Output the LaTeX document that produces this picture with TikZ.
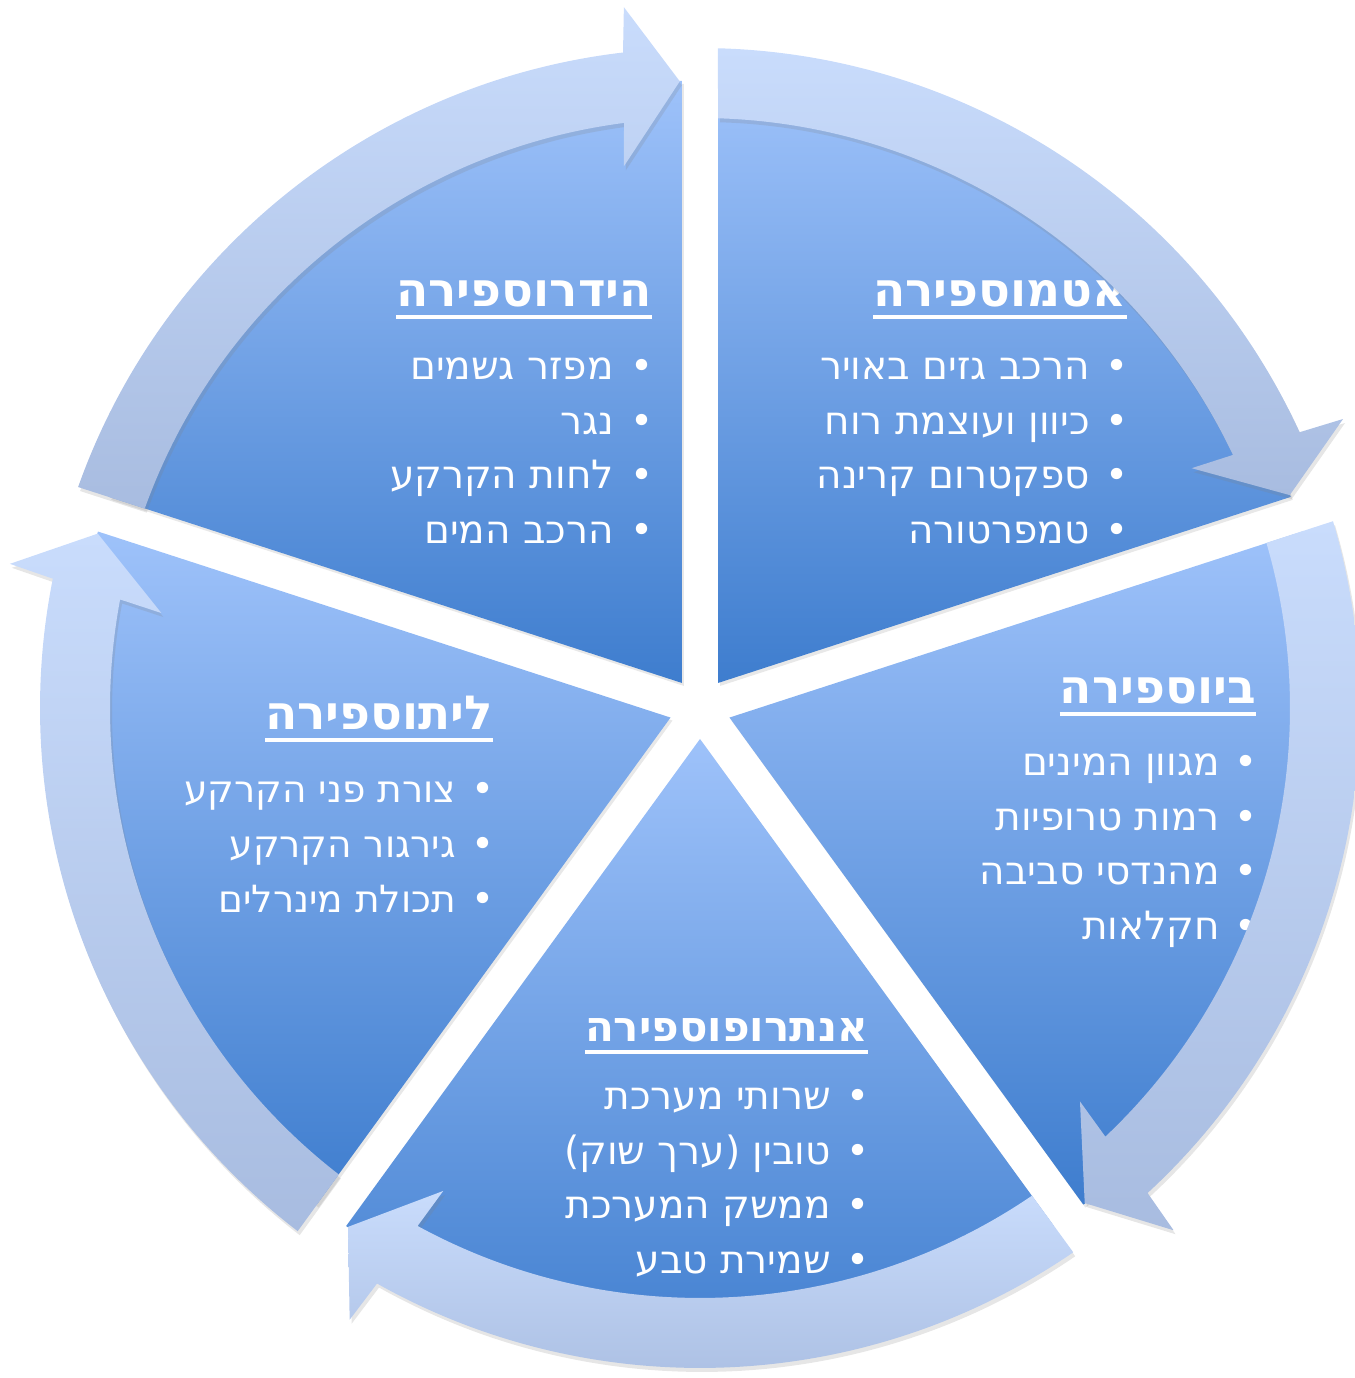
\documentclass[tikz,border=0pt]{standalone}
\usepackage{fontspec}
\usetikzlibrary{shadows,calc}
\TeXXeTstate=1
\newfontfamily\heb[Script=Hebrew]{DejaVu Sans}
\definecolor{wtop}{RGB}{158,194,250}
\definecolor{wbot}{RGB}{62,125,206}
\definecolor{atop}{RGB}{201,220,252}
\definecolor{abot}{RGB}{168,188,224}
\tikzset{
 wedgesty/.style={top color=wtop, bottom color=wbot, draw=none, drop shadow={opacity=0.18, shadow xshift=2pt, shadow yshift=-3pt}},
 arrowsty/.style={top color=atop, bottom color=abot, draw=none, drop shadow={opacity=0.2, shadow xshift=2pt, shadow yshift=-4pt}},
 ttl/.style={anchor=base east, inner sep=0pt, text=white, font=\heb\bfseries\fontsize{47}{56}\selectfont},
 ttlsmall/.style={ttl, font=\heb\bfseries\fontsize{42}{50}\selectfont},
 itm/.style={anchor=base east, inner sep=0pt, text=white, font=\heb\fontsize{39}{46}\selectfont},
 itmsmall/.style={itm, font=\heb\fontsize{37.5}{45}\selectfont},
 bul/.style={anchor=base, inner sep=0pt, text=white, font=\heb\fontsize{39}{46}\selectfont},
 uline/.style={white, line width=4pt},
}
\begin{document}
\begin{tikzpicture}[x=1pt,y=1pt]
\useasboundingbox (0,0) rectangle (1354,1378);
% wedges
\begin{scope}[shift={(700,670)}]
\foreach \k in {0,...,4}{
  \pgfmathsetmacro\a{-72*\k}
  \pgfmathsetmacro\bis{54+\a}
  \pgfmathsetmacro\ea{90+\a}
  \pgfmathsetmacro\eb{18+\a}
  \path[wedgesty] (\bis:31) -- ++(\ea:602) arc[start angle=\ea, end angle=\eb, radius=602] -- cycle;
}
\end{scope}
% hydrosphere
\node[ttl] (t1) at (652,1071) {\beginR הידרוספירה\endR};
\draw[uline] ([yshift=-10pt]t1.base west) -- ([yshift=-10pt]t1.base east);
\node[itm] (h1) at (614,998) {\beginR מפזר גשמים\endR};
\node[itm] (h2) at (614,943) {\beginR נגר\endR};
\node[itm] (h3) at (614,889) {\beginR לחות הקרקע\endR};
\node[itm] (h4) at (614,834) {\beginR הרכב המים\endR};
\foreach \y [count=\i] in {998,943,889,834} \node[bul] (hb\i) at (642,\y) {•};
% atmosphere
\node[ttl] (t2) at (1127,1071) {\beginR אטמוספירה\endR};
\draw[uline] ([yshift=-10pt]t2.base west) -- ([yshift=-10pt]t2.base east);
\node[itm] (a1) at (1090,998) {\beginR הרכב גזים באויר\endR};
\node[itm] (a2) at (1090,943) {\beginR כיוון ועוצמת רוח\endR};
\node[itm] (a3) at (1090,889) {\beginR ספקטרום קרינה\endR};
\node[itm] (a4) at (1090,834) {\beginR טמפרטורה\endR};
\foreach \y [count=\i] in {998,943,889,834} \node[bul] (ab\i) at (1117,\y) {•};
% biosphere
\node[ttl] (t3) at (1256,674) {\beginR ביוספירה\endR};
\draw[uline] ([yshift=-10pt]t3.base west) -- ([yshift=-10pt]t3.base east);
\node[itm] (b1) at (1220,602) {\beginR מגוון המינים\endR};
\node[itm] (b2) at (1220,547) {\beginR רמות טרופיות\endR};
\node[itm] (b3) at (1220,493) {\beginR מהנדסי סביבה\endR};
\node[itm] (b4) at (1220,438) {\beginR חקלאות\endR};
\foreach \y [count=\i] in {602,547,493,438} \node[bul] (bb\i) at (1246,\y) {•};
% anthroposphere
\node[ttlsmall] (t4) at (868,336) {\beginR אנתרופוספירה\endR};
\draw[uline] ([yshift=-10pt]t4.base west) -- ([yshift=-10pt]t4.base east);
\node[itm] (n1) at (831,268) {\beginR שרותי מערכת\endR};
\node[itm] (n2) at (831,213) {\beginR טובין (ערך שוק)\endR};
\node[itm] (n3) at (831,159) {\beginR ממשק המערכת\endR};
\node[itm] (n4) at (831,104) {\beginR שמירת טבע\endR};
\foreach \y [count=\i] in {268,213,159,104} \node[bul] (nb\i) at (858,\y) {•};
% lithosphere
\node[ttl] (t5) at (493,648) {\beginR ליתוספירה\endR};
\draw[uline] ([yshift=-10pt]t5.base west) -- ([yshift=-10pt]t5.base east);
\node[itmsmall] (l1) at (456,575) {\beginR צורת פני הקרקע\endR};
\node[itmsmall] (l2) at (456,520) {\beginR גירגור הקרקע\endR};
\node[itmsmall] (l3) at (456,465) {\beginR תכולת מינרלים\endR};
\foreach \y [count=\i] in {575,520,465} \node[bul] (lb\i) at (483,\y) {•};
% arrows
\begin{scope}[shift={(700,670)}]
\foreach \k in {0,...,4}{
  \pgfmathsetmacro\a{-72*\k}
  \pgfmathsetmacro\so{88.44+\a}
  \pgfmathsetmacro\no{24.7+\a}
  \pgfmathsetmacro\ho{24.2+\a}
  \pgfmathsetmacro\tp{19.85+\a}
  \pgfmathsetmacro\hi{26+\a}
  \pgfmathsetmacro\ni{25.4+\a}
  \pgfmathsetmacro\si{88.25+\a}
  \path[arrowsty] (\so:660) arc[start angle=\so, end angle=\no, radius=660]
     -- (\ho:705) -- (\tp:627) -- (\hi:547) -- (\ni:590)
     arc[start angle=\ni, end angle=\si, radius=590] -- cycle;
}
\end{scope}
\end{tikzpicture}
\end{document}
